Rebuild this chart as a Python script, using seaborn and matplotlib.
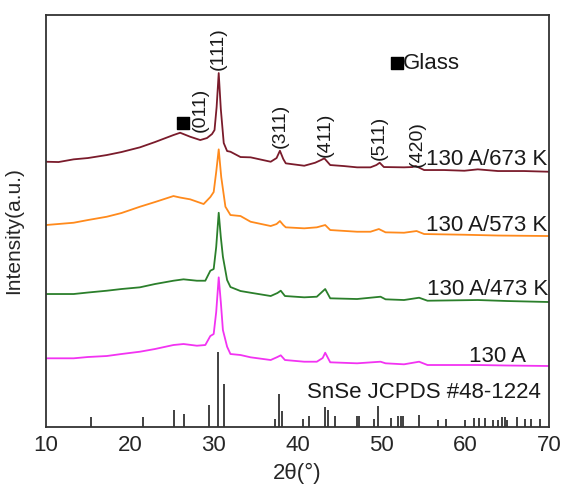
import numpy as np
import matplotlib
matplotlib.use('Agg')
import matplotlib.pyplot as plt
from matplotlib.ticker import MultipleLocator
import seaborn as sns

# ---- data (2theta in degrees, intensity in a.u.) ----
x_673 = [10.0, 11.5, 13.3, 15.0, 17.25, 19.0, 21.2, 23.0, 25.2, 26.0, 27.2, 28.4, 29.2, 29.8,
         30.1, 30.35, 30.6, 30.85, 31.2, 31.6, 32.0, 33.2, 34.4, 36.8, 37.5, 37.9, 38.3, 38.6,
         40.8, 42.1, 42.8, 43.2, 43.9, 45.5, 47.1, 48.7, 49.4, 49.8, 50.3, 52.7, 53.7, 54.1,
         55.1, 57.5, 59.9, 61.5, 63.9, 67.0, 70.0]
y_673 = [265.3, 265.0, 267.7, 269.0, 272.0, 275.0, 279.7, 285.0, 292.0, 294.3, 290.3, 287.0, 289.0, 293.0,
         297.0, 320.0, 354.0, 318.0, 284.0, 276.0, 275.3, 270.0, 269.7, 265.3, 269.0, 276.3, 268.0, 263.7,
         261.3, 264.3, 267.0, 268.7, 262.0, 261.0, 259.7, 259.7, 262.0, 264.3, 260.0, 259.7, 260.0, 261.0,
         257.0, 257.0, 256.3, 257.7, 256.0, 256.0, 255.3]

x_573 = [10.0, 13.3, 15.0, 17.25, 19.0, 21.2, 23.0, 25.2, 26.0, 27.2, 28.8, 29.6, 30.0, 30.3,
         30.6, 30.9, 31.4, 32.0, 33.2, 34.4, 36.8, 37.5, 37.9, 38.3, 38.6, 40.8, 42.3, 43.3,
         43.9, 47.1, 48.7, 49.7, 50.5, 52.7, 54.2, 55.1, 59.9, 63.9, 70.0]
y_573 = [202.0, 204.3, 207.0, 210.3, 214.0, 220.3, 225.0, 231.0, 229.5, 227.7, 223.0, 230.0, 235.0, 255.0,
         277.7, 250.0, 220.3, 212.0, 211.0, 205.3, 201.0, 203.0, 206.0, 202.0, 199.7, 198.7, 199.7, 202.0,
         197.0, 195.3, 195.3, 198.0, 194.7, 194.3, 196.0, 193.0, 192.3, 191.5, 191.0]

x_473 = [10.0, 13.3, 15.0, 17.25, 19.0, 21.2, 23.0, 25.2, 26.4, 28.0, 29.0, 29.6, 30.0, 30.3,
         30.6, 30.85, 31.1, 31.6, 32.0, 33.2, 34.4, 36.8, 37.6, 38.0, 38.5, 40.8, 42.3, 43.3,
         43.9, 47.1, 49.9, 50.5, 52.7, 54.5, 55.5, 61.5, 65.0, 70.0]
y_473 = [133.0, 133.0, 134.5, 136.3, 138.0, 139.7, 143.0, 146.3, 147.7, 146.3, 146.3, 156.3, 158.0, 180.0,
         214.3, 190.0, 170.3, 147.0, 140.0, 136.0, 134.3, 131.0, 134.0, 136.3, 131.0, 129.7, 130.3, 138.0,
         128.7, 128.0, 130.3, 127.7, 127.0, 129.3, 126.3, 127.0, 126.0, 125.0]

x_130 = [10.0, 13.3, 15.0, 17.25, 19.0, 21.2, 23.0, 25.2, 26.4, 28.0, 29.0, 29.6, 30.0, 30.3,
         30.6, 30.85, 31.1, 31.6, 32.0, 33.2, 34.4, 36.8, 37.6, 38.0, 38.5, 40.8, 42.3, 43.0,
         43.3, 43.9, 47.1, 49.9, 50.5, 52.7, 54.5, 55.5, 61.5, 65.0, 70.0]
y_130 = [68.7, 68.7, 70.0, 71.0, 73.0, 75.3, 78.0, 82.0, 83.0, 81.3, 82.0, 91.0, 93.0, 115.0,
         149.7, 125.0, 97.0, 80.3, 73.0, 72.0, 69.7, 67.0, 70.0, 71.7, 67.0, 65.3, 65.3, 69.0,
         74.3, 64.7, 63.7, 65.3, 63.7, 62.7, 65.3, 62.0, 62.0, 61.5, 61.0]

# SnSe JCPDS #48-1224 reference lines
ref_pos = [15.4, 21.6, 25.3, 26.5, 29.4, 30.5, 31.2, 37.3, 37.8, 38.1, 40.6, 41.4, 43.3, 43.6,
           44.5, 47.1, 47.3, 49.1, 49.6, 51.1, 52.0, 52.4, 52.6, 54.5, 56.8, 57.7, 60.0, 61.0,
           61.6, 62.3, 63.3, 63.9, 64.4, 64.7, 65.0, 66.2, 67.1, 67.8, 68.9]
ref_int = [10, 10, 17, 13, 22, 75, 43, 8, 33, 16, 8, 11, 20, 17,
           11, 11, 11, 8, 21, 9, 11, 11, 11, 12, 7, 8, 7, 9,
           9, 9, 7, 7, 10, 10, 7, 10, 8, 8, 8]

series = [
    ('130 A/673 K', x_673, y_673, '#7a1b2b', 69.75, 262),
    ('130 A/573 K', x_573, y_573, '#ff8a1c', 69.75, 196),
    ('130 A/473 K', x_473, y_473, '#2b7f2b', 69.85, 132),
    ('130 A', x_130, y_130, '#f233f2', 67.2, 65),
]

hkl_labels = ['(011)', '(111)', '(311)', '(411)', '(511)', '(420)']
hkl_x = [28.4, 30.6, 37.9, 43.3, 49.8, 54.3]
hkl_y = [295, 357, 279, 270, 267, 260]

sns.set_style('white')
plt.rcParams['font.family'] = ['Liberation Sans', 'DejaVu Sans']

fig = plt.figure(figsize=(5.65, 4.86), dpi=100)
ax = fig.add_axes([0.0814, 0.1214, 0.8904, 0.8476])

for name, xs, ys, col, tx, ty in series:
    sns.lineplot(x=xs, y=ys, color=col, linewidth=1.3, estimator=None, sort=False, ax=ax)
    ax.text(tx, ty, name, ha='right', va='baseline', fontsize=16, color='#1a1a1a')

ax.vlines(ref_pos, 0, ref_int, color='#333333', linewidth=1.3)
ax.text(69.0, 29, 'SnSe JCPDS #48-1224', ha='right', va='baseline', fontsize=16, color='#1a1a1a')

for lab, hx, hy in zip(hkl_labels, hkl_x, hkl_y):
    ax.text(hx, hy, lab, rotation=90, ha='center', va='bottom', fontsize=14, color='#1a1a1a')

# glass markers
ax.scatter([26.4, 51.9], [304, 364], marker='s', s=75, color='black', zorder=5)
ax.text(52.6, 364, 'Glass', ha='left', va='center', fontsize=16, color='#1a1a1a')

ax.set_xlim(10, 70)
ax.set_ylim(0, 412)
ax.xaxis.set_major_locator(MultipleLocator(10))
ax.xaxis.set_minor_locator(MultipleLocator(5))
ax.set_yticks([])
ax.tick_params(axis='x', which='major', direction='out', length=4, width=1.2, labelsize=16,
               pad=2, color='#333333')
ax.tick_params(axis='x', which='minor', direction='out', length=3, width=1.0, color='#333333')
for sp in ax.spines.values():
    sp.set_visible(True)
    sp.set_color('#333333')
    sp.set_linewidth(1.3)

ax.set_xlabel('2θ(°)', fontsize=16, labelpad=5)
ax.set_ylabel('Intensity(a.u.)', fontsize=15)
ax.yaxis.set_label_coords(-0.046, 0.478)

fig.savefig('out.png', dpi=100)
